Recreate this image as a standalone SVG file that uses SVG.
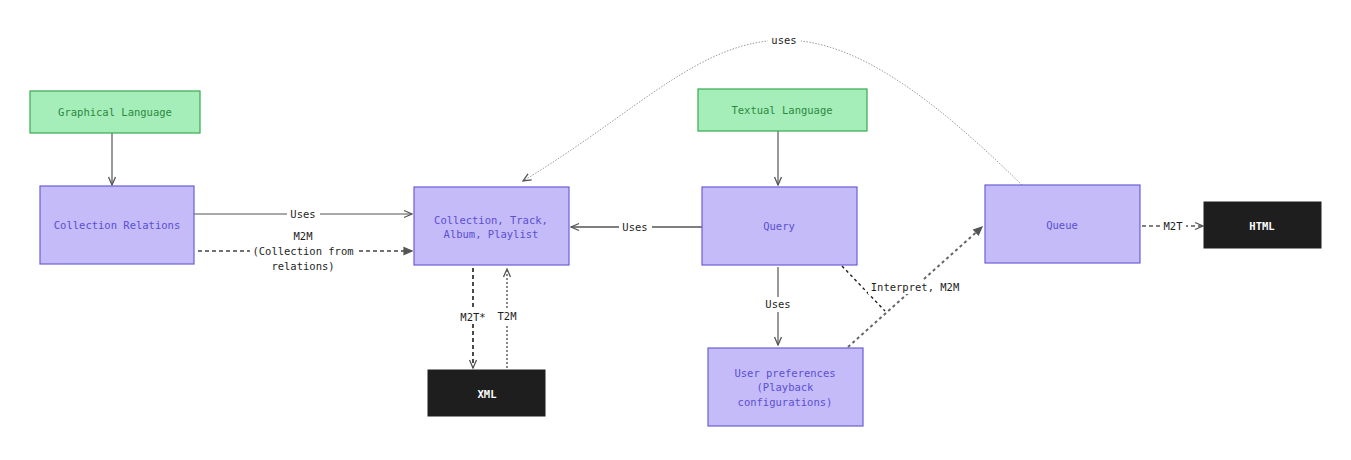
<svg xmlns="http://www.w3.org/2000/svg" width="1351" height="460" viewBox="0 0 1351 460">
<style>
.g{fill:#a5edb9;stroke:#37a852;stroke-width:1.2}
.p{fill:#c4bbf8;stroke:#6a5fd6;stroke-width:1.2}
.b{fill:#1e1e1e;stroke:#1e1e1e;stroke-width:1}
.t{font-family:"DejaVu Sans Mono","Liberation Mono",monospace;font-size:10.5px;text-anchor:middle;dominant-baseline:central}
.tg{fill:#2b8a3e}
.tp{fill:#5b4fd3}
.tw{fill:#ffffff;font-weight:bold}
.tl{fill:#1e1e1e}
.c{fill:none;stroke:#555;stroke-width:1.2}
.d{stroke-dasharray:4 3}
.o{stroke-dasharray:2 2}
.bg{fill:#ffffff}
</style>
<defs>
<marker id="a" viewBox="0 0 10 10" refX="9" refY="5" markerWidth="10" markerHeight="10" markerUnits="userSpaceOnUse" orient="auto">
<path d="M1,1.5 L9,5 L1,8.5" fill="none" stroke="#555" stroke-width="1.3"/>
</marker>
<marker id="f" viewBox="0 0 10 10" refX="9" refY="5" markerWidth="10" markerHeight="10" markerUnits="userSpaceOnUse" orient="auto">
<path d="M1,1.5 L9,5 L1,8.5 Z" fill="#555" stroke="#555" stroke-width="1.2"/>
</marker>
</defs>
<rect width="1351" height="460" fill="#ffffff"/>
<g id="connectors">
<path class="c" d="M1022,185 C940,105 860,40 785,40 C700,40 640,110 523,181" style="stroke:#9a9a9a;stroke-dasharray:1.5 1.5;stroke-width:1" marker-end="url(#a)"/>
<rect class="bg" x="768" y="33" width="33" height="14"/>
<text class="t tl" x="784" y="40">uses</text>
<path class="c" d="M112,133 L112,185" marker-end="url(#a)"/>
<path class="c" d="M194,214 L412,214" marker-end="url(#a)"/>
<rect class="bg" x="287" y="207" width="33" height="14"/>
<text class="t tl" x="303" y="214">Uses</text>
<path class="c d" d="M198,251 L412,251" style="stroke:#444;stroke-width:1.6" marker-end="url(#f)"/>
<rect class="bg" x="250" y="229" width="106" height="44"/>
<text class="t tl" x="303" y="236">M2M</text>
<text class="t tl" x="303" y="251">(Collection from</text>
<text class="t tl" x="303" y="266">relations)</text>
<path class="c" d="M702,227 L571,227" style="stroke-width:1.5" marker-end="url(#a)"/>
<rect class="bg" x="619" y="220" width="33" height="14"/>
<text class="t tl" x="635" y="227">Uses</text>
<path class="c d" d="M473,268 L473,368" style="stroke:#1e1e1e;stroke-width:1.6" marker-end="url(#a)"/>
<rect class="bg" x="458" y="309" width="30" height="15"/>
<text class="t tl" x="473" y="317">M2T*</text>
<path class="c o" d="M507,368 L507,269" style="stroke:#888;stroke-width:2" marker-end="url(#a)"/>
<rect class="bg" x="495" y="309" width="24" height="15"/>
<text class="t tl" x="507" y="316">T2M</text>
<path class="c" d="M778,131 L778,185" marker-end="url(#a)"/>
<path class="c" d="M778,267 L778,345" marker-end="url(#a)"/>
<rect class="bg" x="762" y="297" width="33" height="15"/>
<text class="t tl" x="778" y="304">Uses</text>
<path class="c d" d="M842,266 L885,311" style="stroke:#1e1e1e;stroke-width:1.4;stroke-dasharray:3 3"/>
<path class="c d" d="M848,347 L982,227" style="stroke:#666;stroke-width:2;stroke-dasharray:3 3" marker-end="url(#f)"/>
<rect class="bg" x="868" y="280" width="95" height="14"/>
<text class="t tl" x="915" y="287">Interpret, M2M</text>
<path class="c d" d="M1142,226 L1203,226" style="stroke:#555;stroke-width:1.6" marker-end="url(#a)"/>
<rect class="bg" x="1161" y="219" width="25" height="14"/>
<text class="t tl" x="1173" y="226">M2T</text>
</g>
<g id="graphical-language">
<rect class="g" x="30" y="91" width="170" height="42"/>
<text class="t tg" x="115" y="112">Graphical Language</text>
</g>
<g id="collection-relations">
<rect class="p" x="40" y="186" width="154" height="78"/>
<text class="t tp" x="117" y="225">Collection Relations</text>
</g>
<g id="collection-track">
<rect class="p" x="414" y="187" width="155" height="78"/>
<text class="t tp" x="491" y="220">Collection, Track,</text>
<text class="t tp" x="491" y="234">Album, Playlist</text>
</g>
<g id="xml">
<rect class="b" x="428" y="370" width="117" height="46"/>
<text class="t tw" x="487" y="394">XML</text>
</g>
<g id="textual-language">
<rect class="g" x="698" y="89" width="169" height="42"/>
<text class="t tg" x="782" y="110">Textual Language</text>
</g>
<g id="query">
<rect class="p" x="702" y="187" width="155" height="78"/>
<text class="t tp" x="779" y="226">Query</text>
</g>
<g id="user-preferences">
<rect class="p" x="708" y="348" width="155" height="78"/>
<text class="t tp" x="785" y="373">User preferences</text>
<text class="t tp" x="785" y="387">(Playback</text>
<text class="t tp" x="785" y="402">configurations)</text>
</g>
<g id="queue">
<rect class="p" x="985" y="185" width="155" height="78"/>
<text class="t tp" x="1062" y="225">Queue</text>
</g>
<g id="html">
<rect class="b" x="1204" y="202" width="117" height="46"/>
<text class="t tw" x="1262" y="226">HTML</text>
</g>
</svg>
